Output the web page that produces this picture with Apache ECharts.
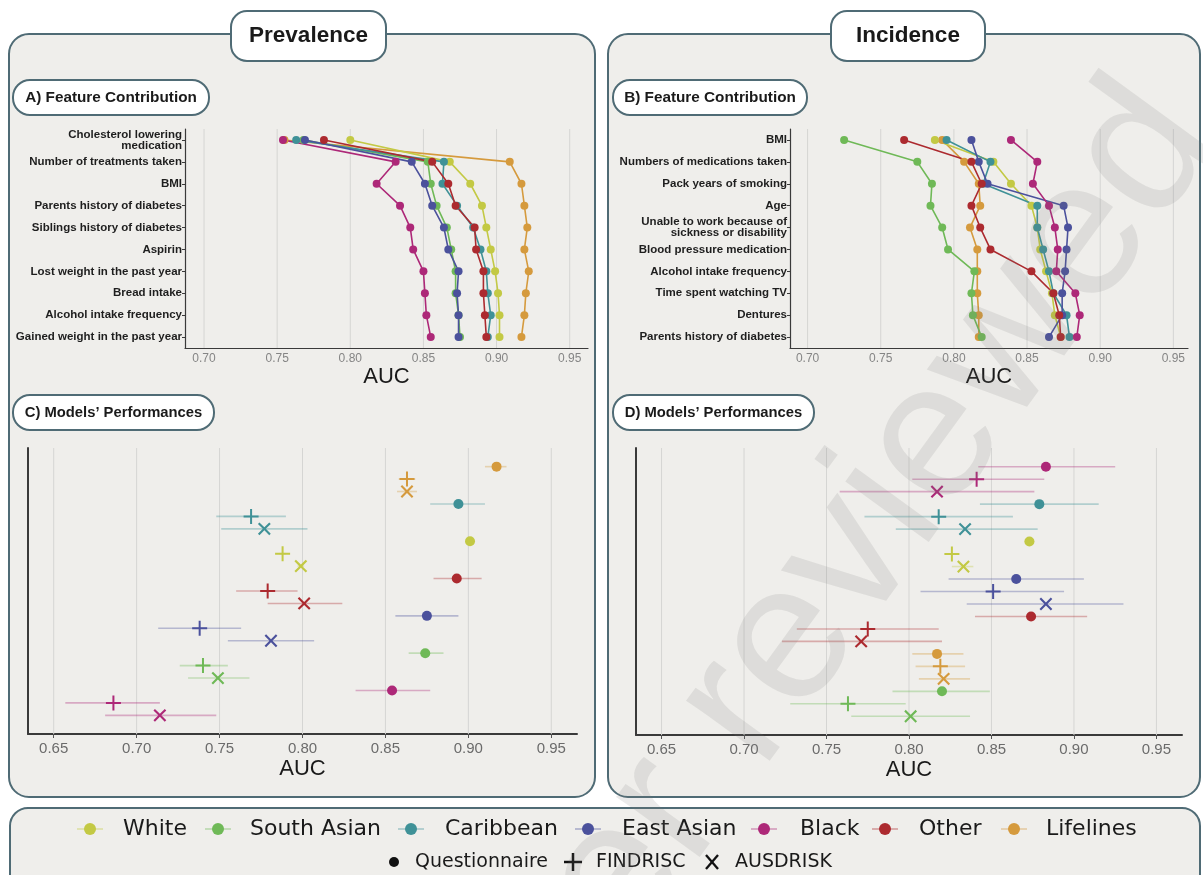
<!DOCTYPE html>
<html><head><meta charset="utf-8">
<script src="https://cdn.jsdelivr.net/npm/echarts@6/dist/echarts.min.js"></script>
<style>html,body{margin:0;padding:0;background:#fff}#c{width:1203px;height:875px}</style>
</head><body><div id="c"></div>
<script>
// ---------------- DATA ----------------
const groups = ['White','South Asian','Caribbean','East Asian','Black','Other','Lifelines'];
const groupColors = ['#c3c944','#6fb957','#3f9197','#4b519c','#ad2878','#ac2a2f','#d59a3d'];
const modelNames = ['Questionnaire','FINDRISC','AUSDRISK'];

const prevFeatures = ['Cholesterol lowering\nmedication','Number of treatments taken','BMI','Parents history of diabetes','Siblings history of diabetes','Aspirin','Lost weight in the past year','Bread intake','Alcohol intake frequency','Gained weight in the past year'];
const incFeatures = ['BMI','Numbers of medications taken','Pack years of smoking','Age','Unable to work because of\nsickness or disability','Blood pressure medication','Alcohol intake frequency','Time spent watching TV','Dentures','Parents history of diabetes'];

// Panel A (prevalence feature contribution), AUC per feature row
const prevWhite      = [0.800,0.868,0.882,0.890,0.893,0.896,0.899,0.901,0.902,0.902];
const prevSouthAsian = [0.768,0.853,0.855,0.859,0.866,0.869,0.872,0.872,0.874,0.875];
const prevCaribbean  = [0.763,0.864,0.863,0.873,0.884,0.889,0.893,0.894,0.896,0.894];
const prevEastAsian  = [0.769,0.842,0.851,0.856,0.864,0.867,0.874,0.873,0.874,0.874];
const prevBlack      = [0.754,0.831,0.818,0.834,0.841,0.843,0.850,0.851,0.852,0.855];
const prevOther      = [0.782,0.856,0.867,0.872,0.885,0.886,0.891,0.891,0.892,0.893];
const prevLifelines  = [0.755,0.909,0.917,0.919,0.921,0.919,0.922,0.920,0.919,0.917];

// Panel B (incidence feature contribution)
const incWhite      = [0.787,0.827,0.839,0.853,0.857,0.859,0.863,0.867,0.869,0.873];
const incSouthAsian = [0.725,0.775,0.785,0.784,0.792,0.796,0.814,0.812,0.813,0.819];
const incCaribbean  = [0.795,0.825,0.820,0.857,0.857,0.861,0.865,0.868,0.877,0.879];
const incEastAsian  = [0.812,0.817,0.823,0.875,0.878,0.877,0.876,0.874,0.874,0.865];
const incBlack      = [0.839,0.857,0.854,0.865,0.869,0.871,0.870,0.883,0.886,0.884];
const incOther      = [0.766,0.812,0.819,0.812,0.818,0.825,0.853,0.868,0.872,0.873];
const incLifelines  = [0.792,0.807,0.817,0.818,0.811,0.816,0.816,0.816,0.817,0.817];

// Panel C (prevalence model performances), rows top to bottom
const perfPrevGroup = ['Lifelines','Lifelines','Lifelines','Caribbean','Caribbean','Caribbean','White','White','White','Other','Other','Other','East Asian','East Asian','East Asian','South Asian','South Asian','South Asian','Black','Black','Black'];
const perfPrevModel = ['Questionnaire','FINDRISC','AUSDRISK','Questionnaire','FINDRISC','AUSDRISK','Questionnaire','FINDRISC','AUSDRISK','Questionnaire','FINDRISC','AUSDRISK','Questionnaire','FINDRISC','AUSDRISK','Questionnaire','FINDRISC','AUSDRISK','Questionnaire','FINDRISC','AUSDRISK'];
const perfPrevAUC  = [0.917,0.863,0.863,0.894,0.769,0.777,0.901,0.788,0.799,0.893,0.779,0.801,0.875,0.738,0.781,0.874,0.740,0.749,0.854,0.686,0.714];
const perfPrevLow  = [0.910,0.858,0.857,0.877,0.748,0.751,0.899,0.786,0.797,0.879,0.760,0.779,0.856,0.713,0.755,0.864,0.726,0.731,0.832,0.657,0.681];
const perfPrevHigh = [0.923,0.868,0.869,0.910,0.790,0.803,0.904,0.790,0.801,0.908,0.797,0.824,0.894,0.763,0.807,0.885,0.755,0.768,0.877,0.714,0.748];

// Panel D (incidence model performances), rows top to bottom
const perfIncGroup = ['Black','Black','Black','Caribbean','Caribbean','Caribbean','White','White','White','East Asian','East Asian','East Asian','Other','Other','Other','Lifelines','Lifelines','Lifelines','South Asian','South Asian','South Asian'];
const perfIncModel = perfPrevModel;
const perfIncAUC  = [0.883,0.841,0.817,0.879,0.818,0.834,0.873,0.826,0.833,0.865,0.851,0.883,0.874,0.775,0.771,0.817,0.819,0.821,0.820,0.763,0.801];
const perfIncLow  = [0.842,0.802,0.758,0.843,0.773,0.792,0.870,0.823,0.826,0.824,0.807,0.835,0.840,0.732,0.723,0.802,0.804,0.806,0.790,0.728,0.765];
const perfIncHigh = [0.925,0.882,0.876,0.915,0.863,0.878,0.876,0.829,0.839,0.906,0.894,0.930,0.908,0.818,0.820,0.833,0.834,0.837,0.849,0.798,0.837];

// Tick labels
const ticksFeature = [0.70,0.75,0.80,0.85,0.90,0.95];
const ticksPerf = [0.65,0.70,0.75,0.80,0.85,0.90,0.95];

// ---------------- CHART ----------------
const FONT = "'Liberation Sans', Arial, sans-serif";
const frameColor = '#4f6b75';
const panelFill = '#efeeeb';
const prevData = [prevWhite, prevSouthAsian, prevCaribbean, prevEastAsian, prevBlack, prevOther, prevLifelines];
const incData = [incWhite, incSouthAsian, incCaribbean, incEastAsian, incBlack, incOther, incLifelines];
const drawOrder = [6,0,1,2,3,5,4];
const PLUS = 'path://M6.5,0H8.5V6.5H15V8.5H8.5V15H6.5V8.5H0V6.5H6.5Z';

function fcX(gi, min, max){
  return {gridIndex:gi, type:'value', min:min, max:max,
    splitLine:{show:false},
    axisLine:{show:true, onZero:false, lineStyle:{color:'#3a3a3a', width:1.2}},
    axisTick:{show:false},
    axisLabel:{customValues:ticksFeature, formatter:v=>v.toFixed(2), color:'#858585', fontSize:12, margin:5, fontFamily:FONT},
    name:'AUC', nameLocation:'middle', nameGap:15, nameTextStyle:{fontSize:22, color:'#1a1a1a', fontFamily:FONT}};
}
function fcY(gi, cats){
  return {gridIndex:gi, type:'category', data:cats, inverse:true, boundaryGap:true,
    axisLine:{show:true, onZero:false, lineStyle:{color:'#3a3a3a', width:1.2}},
    axisTick:{show:true, length:3, alignWithLabel:true, lineStyle:{color:'#3a3a3a'}},
    splitLine:{show:false},
    axisLabel:{fontFamily:FONT, fontWeight:'bold', fontSize:11.5, color:'#1e1e1e', margin:3, lineHeight:11, interval:0}};
}
function mpX(gi){
  return {gridIndex:gi, type:'value', min:0.6345, max:0.9655,
    splitLine:{show:false},
    axisLine:{show:true, onZero:false, lineStyle:{color:'#3a3a3a', width:2}},
    axisTick:{show:true, customValues:ticksPerf, length:4, lineStyle:{color:'#555'}},
    axisLabel:{customValues:ticksPerf, formatter:v=>v.toFixed(2), color:'#6b6b6b', fontSize:15, margin:7, fontFamily:FONT},
    name:'AUC', nameLocation:'middle', nameGap:24, nameTextStyle:{fontSize:22, color:'#1a1a1a', fontFamily:FONT}};
}
function mpY(gi){
  return {gridIndex:gi, type:'value', min:-1.5, max:21.5, inverse:true,
    axisLine:{show:true, onZero:false, lineStyle:{color:'#3a3a3a', width:2}},
    axisTick:{show:false}, axisLabel:{show:false}, splitLine:{show:false}};
}
function gridSeries(idx, vals){
  return {type:'custom', xAxisIndex:idx, yAxisIndex:idx, silent:true, z:1,
    data: vals.map(v=>[v,0]), encode:{x:0, y:1},
    renderItem:(params, api)=>{
      const x = api.coord([api.value(0), api.value(1)])[0];
      const cs = params.coordSys;
      return {type:'line', shape:{x1:x, y1:cs.y, x2:x, y2:cs.y+cs.height}, style:{stroke:'#d5d5d3', lineWidth:1}};
    }};
}
function lineSeries(idx, dataArr){
  return drawOrder.map(g=>({
    type:'line', name:groups[g], xAxisIndex:idx, yAxisIndex:idx, z:3, silent:true,
    data: dataArr[g].map((v,i)=>[v,i]),
    symbol:'circle', symbolSize:8, showSymbol:true,
    lineStyle:{color:groupColors[g], width:1.6},
    itemStyle:{color:groupColors[g]}
  }));
}
function errSeries(idx, lo, hi, grp){
  return {type:'custom', xAxisIndex:idx, yAxisIndex:idx, silent:true, z:2,
    data: lo.map((l,i)=>[l, hi[i], i, groups.indexOf(grp[i])]),
    encode:{x:[0,1], y:2},
    renderItem:(params, api)=>{
      const a = api.coord([api.value(0), api.value(2)]);
      const b = api.coord([api.value(1), api.value(2)]);
      return {type:'line', shape:{x1:a[0], y1:a[1], x2:b[0], y2:b[1]},
        style:{stroke:groupColors[api.value(3)], lineWidth:1.6, opacity:0.35}};
    }};
}
function markerSeries(idx, auc, grp, mdl){
  const syms = ['circle', PLUS, PLUS], sizes = [10, 15, 16], rots = [0, 0, 45];
  return modelNames.map((m,k)=>({
    type:'scatter', name:m, xAxisIndex:idx, yAxisIndex:idx, z:3, silent:true,
    symbol:syms[k], symbolSize:sizes[k], symbolRotate:rots[k],
    itemStyle:{opacity:1},
    data: auc.map((v,i)=> mdl[i]===m ? {value:[v,i], itemStyle:{color:groupColors[groups.indexOf(grp[i])], opacity:1}} : null).filter(d=>d)
  }));
}

// ---------- graphic (frames, titles, legend, watermark) ----------
const g = [];
function frame(x,y,w,h,r,fill){ g.push({type:'rect', z:-5, shape:{x,y,width:w,height:h,r}, style:{fill:fill, stroke:frameColor, lineWidth:2}}); }
function titleBox(x,y,w,h,r,text,size){
  g.push({type:'rect', z:20, shape:{x,y,width:w,height:h,r}, style:{fill:'#ffffff', stroke:frameColor, lineWidth:2}});
  g.push({type:'text', z:21, x:x+w/2, y:y+h/2, style:{text, fill:'#1a1a1a', fontFamily:FONT, fontWeight:'bold', fontSize:size, textAlign:'center', textVerticalAlign:'middle', align:'center', verticalAlign:'middle'}});
}
frame(9,34,586,763,20,panelFill);
frame(608,34,592,763,20,panelFill);
frame(10,808,1190,100,18,panelFill);
titleBox(231,11,155,50,16,'Prevalence',22.5);
titleBox(831,11,154,50,16,'Incidence',22.5);
titleBox(13,80,196,35,17,'A) Feature Contribution',15.3);
titleBox(613,80,194,35,17,'B) Feature Contribution',15.3);
titleBox(13,395,201,35,17,'C) Models\u2019 Performances',14.8);
titleBox(613,395,201,35,17,'D) Models\u2019 Performances',14.8);

// legend row 1: groups
const legKeyX = [90,218,411,588,764,885,1014];
const legTextX = [123,250,445,622,800,919,1046];
groups.forEach((name,i)=>{
  g.push({type:'line', z:22, shape:{x1:legKeyX[i]-13, y1:829, x2:legKeyX[i]+13, y2:829}, style:{stroke:groupColors[i], lineWidth:1.5, opacity:0.45}});
  g.push({type:'circle', z:23, shape:{cx:legKeyX[i], cy:829, r:6}, style:{fill:groupColors[i]}});
  g.push({type:'text', z:23, x:legTextX[i], y:829, style:{text:name, fill:'#1a1a1a', fontFamily:"'DejaVu Sans', sans-serif", fontSize:22, textVerticalAlign:'middle', verticalAlign:'middle'}});
});
// legend row 2: models
g.push({type:'circle', z:23, shape:{cx:394, cy:862, r:5}, style:{fill:'#111'}});
g.push({type:'text', z:23, x:415, y:862, style:{text:modelNames[0], fill:'#1a1a1a', fontFamily:"'DejaVu Sans', sans-serif", fontSize:19, textVerticalAlign:'middle', verticalAlign:'middle'}});
g.push({type:'line', z:23, shape:{x1:564, y1:862, x2:582, y2:862}, style:{stroke:'#111', lineWidth:2.5}});
g.push({type:'line', z:23, shape:{x1:573, y1:853, x2:573, y2:871}, style:{stroke:'#111', lineWidth:2.5}});
g.push({type:'text', z:23, x:596, y:862, style:{text:modelNames[1], fill:'#1a1a1a', fontFamily:"'DejaVu Sans', sans-serif", fontSize:19, textVerticalAlign:'middle', verticalAlign:'middle'}});
g.push({type:'line', z:23, shape:{x1:706, y1:855, x2:718, y2:869}, style:{stroke:'#111', lineWidth:2.3}});
g.push({type:'line', z:23, shape:{x1:718, y1:855, x2:706, y2:869}, style:{stroke:'#111', lineWidth:2.3}});
g.push({type:'text', z:23, x:735, y:862, style:{text:modelNames[2], fill:'#1a1a1a', fontFamily:"'DejaVu Sans', sans-serif", fontSize:19, textVerticalAlign:'middle', verticalAlign:'middle'}});
// watermark
g.push({type:'text', z:100, silent:true, x:536, y:1157, rotation:54*Math.PI/180,
  style:{text:'peer reviewed', fill:'rgba(120,120,120,0.15)', fontFamily:FONT, fontSize:195, textAlign:'left', align:'left', textVerticalAlign:'bottom', verticalAlign:'bottom'}});

const option = {
  backgroundColor:'#ffffff',
  animation:false,
  textStyle:{fontFamily:FONT},
  grid:[
    {left:185, right:615, top:129, bottom:527},
    {left:790, right:15, top:129, bottom:527},
    {left:28, right:626, top:448, bottom:141},
    {left:636, right:21, top:448, bottom:140}
  ],
  xAxis:[fcX(0,0.687,0.9625), fcX(1,0.688,0.960), mpX(2), mpX(3)],
  yAxis:[fcY(0,prevFeatures), fcY(1,incFeatures), mpY(2), mpY(3)],
  series:[
    gridSeries(0,ticksFeature), gridSeries(1,ticksFeature), gridSeries(2,ticksPerf), gridSeries(3,ticksPerf),
    ...lineSeries(0,prevData), ...lineSeries(1,incData),
    errSeries(2,perfPrevLow,perfPrevHigh,perfPrevGroup), errSeries(3,perfIncLow,perfIncHigh,perfIncGroup),
    ...markerSeries(2,perfPrevAUC,perfPrevGroup,perfPrevModel), ...markerSeries(3,perfIncAUC,perfIncGroup,perfIncModel)
  ],
  graphic:{elements:g}
};
const chart = echarts.init(document.getElementById('c'));
chart.setOption(option);
</script>
</body></html>
